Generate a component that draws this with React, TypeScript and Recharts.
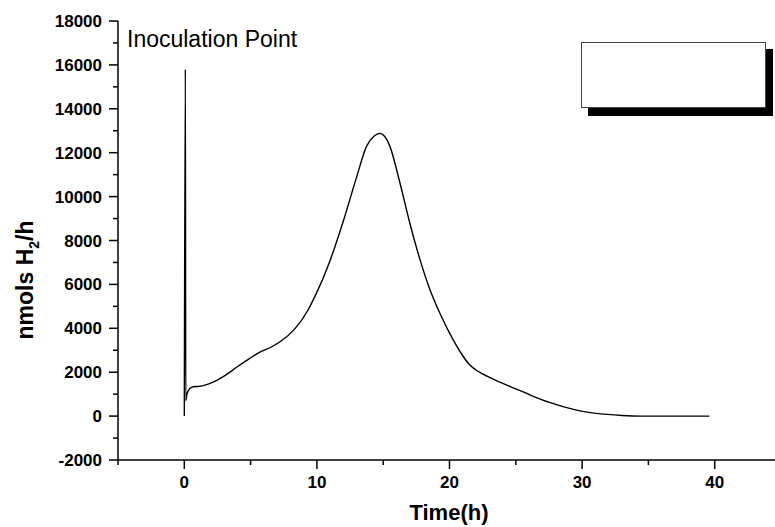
import React from "react";
import { LineChart, Line, XAxis, YAxis } from "recharts";

const timeH = [0, 0.08, 0.11, 0.2, 0.4, 0.7, 1.0, 1.5, 2.0, 3.0, 4.0, 5.0, 5.6, 6.6, 7.3, 8.3, 9.3, 10.0, 10.5, 11.0, 12.0, 13.0, 13.75, 14.3, 14.75, 15.1, 15.5, 16.26, 17.0, 17.77, 18.5, 19.3, 20.3, 21.0, 21.5, 22.0, 22.5, 23.1, 24.8, 25.6, 26.1, 27.6, 29.35, 30.5, 31.9, 33.0, 34.4, 36.0, 39.6];
const h2Rate = [0, 15800, 700, 1000, 1250, 1340, 1350, 1400, 1500, 1820, 2250, 2650, 2880, 3160, 3420, 3950, 4800, 5650, 6330, 7100, 8900, 10900, 12300, 12750, 12880, 12750, 12300, 10630, 8810, 7140, 5800, 4650, 3450, 2750, 2350, 2100, 1920, 1740, 1290, 1090, 960, 610, 305, 170, 77, 30, 0, 0, 0];

const xTicks = [-5, 0, 5, 10, 15, 20, 25, 30, 35, 40, 45];
const xLabelTicks = [0, 10, 20, 30, 40];
const yTicks = [-2000, -1000, 0, 1000, 2000, 3000, 4000, 5000, 6000, 7000, 8000, 9000, 10000, 11000, 12000, 13000, 14000, 15000, 16000, 17000, 18000];
const yLabelTicks = [-2000, 0, 2000, 4000, 6000, 8000, 10000, 12000, 14000, 16000, 18000];

const data = timeH.map((t, i) => ({ t, v: h2Rate[i] }));

const FONT = "'Liberation Sans', Arial, sans-serif";

const YTick = (props: any) => {
  const { x, y, payload } = props;
  const v = payload.value;
  const major = yLabelTicks.includes(v);
  return (
    <g>
      <line x1={x - (major ? 9 : 5)} x2={x} y1={y} y2={y} stroke="#000" strokeWidth={1.5} />
      {major && (
        <text x={x - 16} y={y} dy={6} textAnchor="end" fontSize={17} fontWeight="bold" fontFamily={FONT} fill="#000">
          {v}
        </text>
      )}
    </g>
  );
};

const XTick = (props: any) => {
  const { x, y, payload } = props;
  const v = payload.value;
  const major = v % 10 === 0;
  return (
    <g>
      <line x1={x} x2={x} y1={y} y2={y + (major ? 9 : 5)} stroke="#000" strokeWidth={1.5} />
      {xLabelTicks.includes(v) && (
        <text x={x} y={y + 28} textAnchor="middle" fontSize={17} fontWeight="bold" fontFamily={FONT} fill="#000">
          {v}
        </text>
      )}
    </g>
  );
};

const TopTick = (props: any) => {
  const { x, y } = props;
  return <line x1={x} x2={x} y1={y} y2={y + 3} stroke="#999" strokeWidth={1} />;
};

export default function App() {
  return (
    <div style={{ position: "absolute", left: 0, top: 0, width: 775, height: 527, overflow: "hidden", background: "#fff" }}>
      <LineChart width={781} height={527} data={data} margin={{ top: 21, right: 0, bottom: 0, left: 0 }}>
        <XAxis
          xAxisId="bottom"
          dataKey="t"
          type="number"
          domain={[-5, 45]}
          ticks={xTicks}
          interval={0}
          height={67}
          tickSize={0}
          tickMargin={0}
          tickLine={false}
          axisLine={{ stroke: "#000", strokeWidth: 1.5 }}
          tick={<XTick />}
        />
        <XAxis
          xAxisId="top"
          orientation="top"
          dataKey="t"
          type="number"
          domain={[-5, 45]}
          ticks={xTicks}
          interval={0}
          height={0}
          tickSize={0}
          tickMargin={0}
          tickLine={false}
          axisLine={{ stroke: "#000", strokeWidth: 1.5 }}
          tick={<TopTick />}
        />
        <YAxis
          type="number"
          domain={[-2000, 18000]}
          ticks={yTicks}
          interval={0}
          width={118}
          tickSize={0}
          tickMargin={0}
          tickLine={false}
          axisLine={{ stroke: "#000", strokeWidth: 1.5 }}
          tick={<YTick />}
        />
        <Line
          xAxisId="bottom"
          dataKey="v"
          type="monotoneX"
          stroke="#000"
          strokeWidth={1.4}
          dot={false}
          isAnimationActive={false}
        />
      </LineChart>
      <div style={{ position: "absolute", left: 588, top: 49, width: 185, height: 67, background: "#000" }} />
      <div style={{ position: "absolute", left: 581, top: 42, width: 183, height: 64, background: "#fff", border: "1px solid #444" }} />
      <svg width={775} height={527} style={{ position: "absolute", left: 0, top: 0, pointerEvents: "none" }}>
        <text x={127} y={47} fontSize={23} fontFamily={FONT} fill="#000">Inoculation Point</text>
        <text x={449} y={520} textAnchor="middle" fontSize={22} fontWeight="bold" fontFamily={FONT} fill="#000">Time(h)</text>
        <text transform="translate(33,280) rotate(-90)" textAnchor="middle" fontSize={23} fontWeight="bold" fontFamily={FONT} fill="#000">
          nmols H<tspan fontSize={14} dy={6}>2</tspan><tspan dy={-6}>/h</tspan>
        </text>
      </svg>
    </div>
  );
}
